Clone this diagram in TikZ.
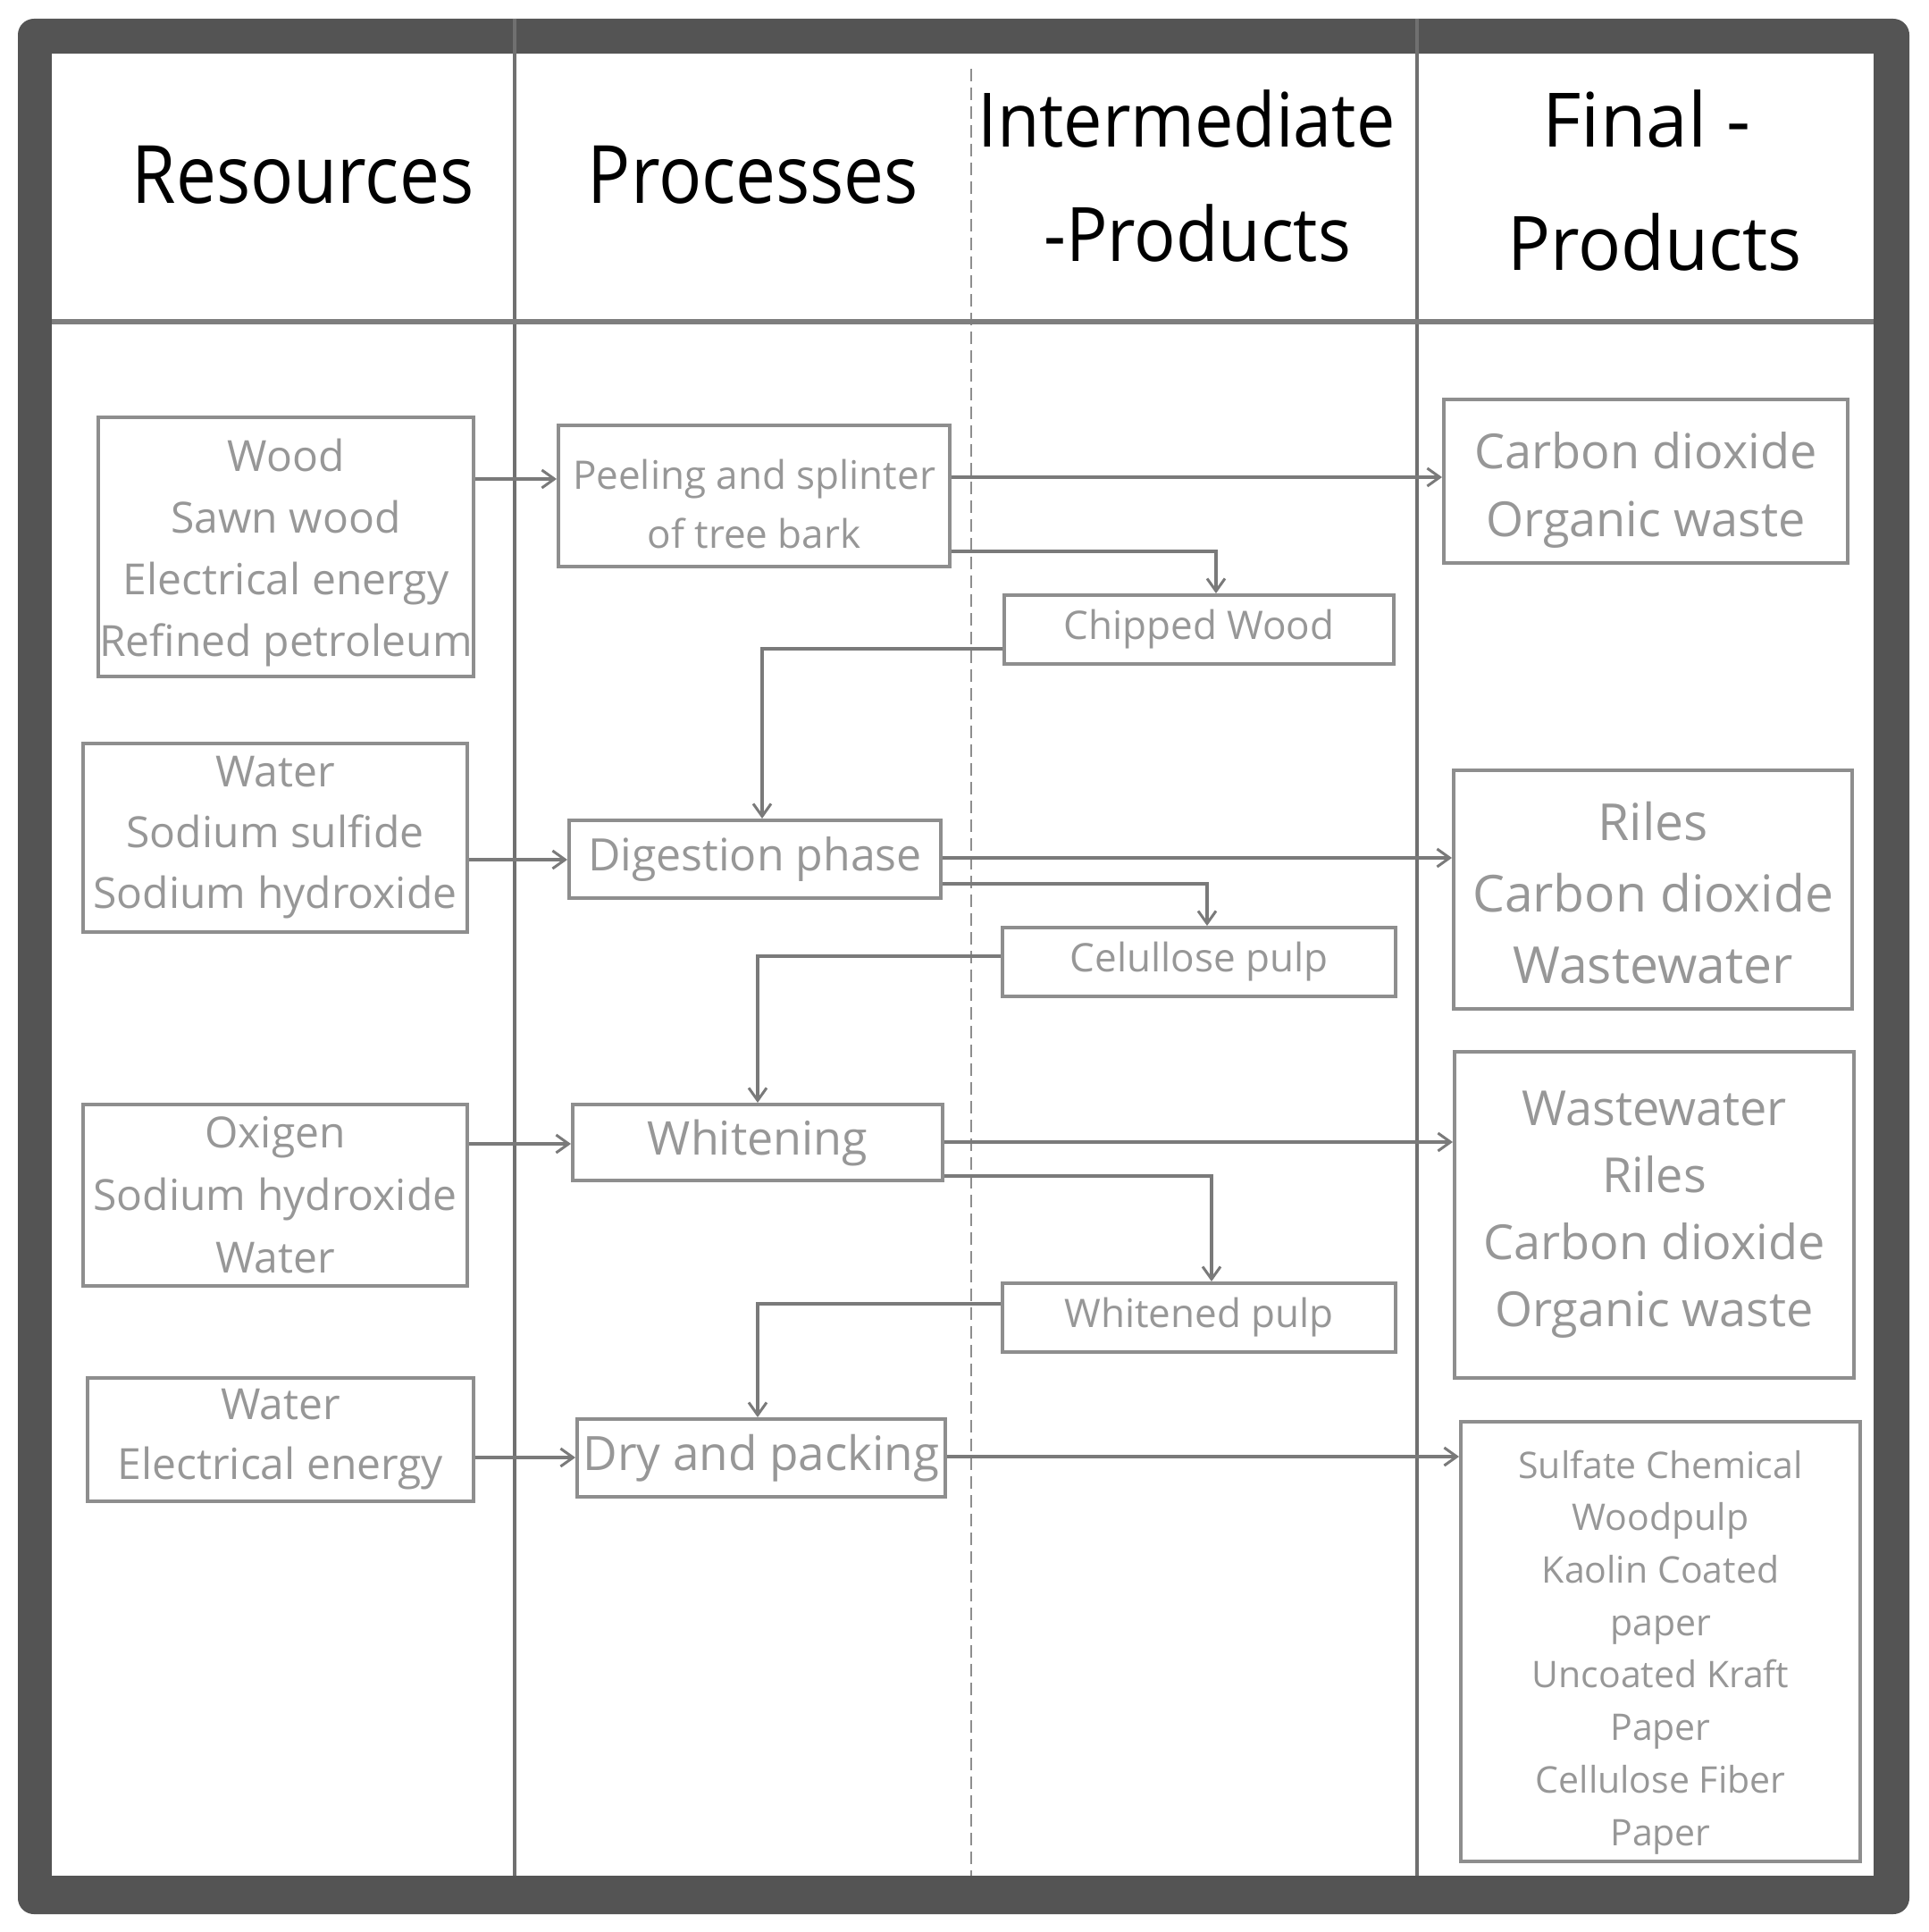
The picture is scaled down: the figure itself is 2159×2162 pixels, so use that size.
\documentclass[tikz,border=0pt]{standalone}
\usepackage{fontspec}
\usepackage{graphicx}
\setmainfont{Open Sans}
\usetikzlibrary{arrows.meta}
\definecolor{framec}{HTML}{545454}
\definecolor{divc}{HTML}{707070}
\definecolor{boxc}{HTML}{8E8E8E}
\definecolor{txtc}{HTML}{979797}
\definecolor{arrc}{HTML}{7A7A7A}
\newcommand{\tallstrut}[1]{\rule{0pt}{#1pt}}
\begin{document}
\begin{tikzpicture}[x=1pt,y=-1pt,
  box/.style={draw=boxc, line width=4pt, fill=white, text=txtc, align=center, inner sep=0pt},
  hdr/.style={anchor=base, text=black, inner sep=0pt},
  arr/.style={draw=arrc, line width=4pt, -{Straight Barb[length=14pt,width=20pt,line width=3pt]}}
]
\useasboundingbox (0,0) rectangle (2159,2162);
% frame
\fill[framec, rounded corners=18pt] (20,21) rectangle (2137,2142);
\fill[white] (58,60) rectangle (2097,2099);
% dividers
\draw[divc, line width=3.5pt] (576,21) -- (576,2099);
\draw[divc, line width=3.5pt] (1586,21) -- (1586,2099);
\draw[boxc, line width=2.5pt, dash pattern=on 14pt off 7pt] (1087,77) -- (1087,2099);
\draw[divc!90, line width=6pt] (58,360) -- (2097,360);
% headers
\node[hdr, font=\fontsize{90}{100}\selectfont] (hRes) at (339,227) {\scalebox{0.89}[1]{Resources}};
\node[hdr, font=\fontsize{90}{100}\selectfont] (hPro) at (843,227) {\scalebox{0.89}[1]{Processes}};
\node[hdr, font=\fontsize{84}{100}\selectfont] (hInt1) at (1328,165) {\scalebox{0.92}[1]{Intermediate}};
\node[hdr, font=\fontsize{84}{100}\selectfont] (hInt2) at (1340,292) {\scalebox{0.92}[1]{-Products}};
\node[hdr, font=\fontsize{84}{100}\selectfont] (hFin1) at (1843,165) {Final -};
\node[hdr, font=\fontsize{84}{100}\selectfont] (hFin2) at (1852,302) {\scalebox{0.95}[1]{Products}};
% resources
\node[box, minimum width=420pt, minimum height=290pt, font=\fontsize{48}{69}\selectfont] (R1) at (320,612) {\tallstrut{49}Wood\\Sawn wood\\Electrical energy\\Refined petroleum};
\node[box, minimum width=430pt, minimum height=211pt, font=\fontsize{48}{68}\selectfont] (R2) at (308,937.5) {Water\\Sodium sulfide\\Sodium hydroxide};
\node[box, minimum width=430pt, minimum height=203pt, font=\fontsize{48}{70}\selectfont] (R3) at (308,1337.5) {Oxigen\\Sodium hydroxide\\Water};
\node[box, minimum width=432pt, minimum height=138pt, font=\fontsize{48}{67}\selectfont] (R4) at (314,1611) {Water\\Electrical energy};
% processes
\node[box, minimum width=438pt, minimum height=158pt, font=\fontsize{44}{66}\selectfont] (P1) at (844,555) {\tallstrut{51}Peeling and splinter\\of tree bark};
\node[box, minimum width=416pt, minimum height=87pt, font=\fontsize{50}{60}\selectfont] (P2) at (845,961.5) {Digestion phase};
\node[box, minimum width=414pt, minimum height=85pt, font=\fontsize{52}{60}\selectfont] (P3) at (848,1278.5) {Whitening};
\node[box, minimum width=412pt, minimum height=87pt, font=\fontsize{53}{60}\selectfont] (P4) at (852,1631.5) {Dry and packing};
% intermediate
\node[box, minimum width=436pt, minimum height=77pt, font=\fontsize{44}{60}\selectfont] (I1) at (1342,704.5) {Chipped Wood};
\node[box, minimum width=440pt, minimum height=77pt, font=\fontsize{44}{60}\selectfont] (I2) at (1342,1076.5) {Celullose pulp};
\node[box, minimum width=440pt, minimum height=77pt, font=\fontsize{44}{60}\selectfont] (I3) at (1342,1474.5) {Whitened pulp};
% final
\node[box, minimum width=452pt, minimum height=183pt, font=\fontsize{54}{76}\selectfont] (F1) at (1842,538.5) {\tallstrut{61}Carbon dioxide\\Organic waste};
\node[box, minimum width=446pt, minimum height=267pt, font=\fontsize{57}{80}\selectfont] (F2) at (1850,995.5) {\tallstrut{51}Riles\\Carbon dioxide\\Wastewater};
\node[box, minimum width=447pt, minimum height=365pt, font=\fontsize{54}{75}\selectfont] (F3) at (1851.5,1359.5) {Wastewater\\Riles\\Carbon dioxide\\Organic waste\rule[-8pt]{0pt}{0pt}};
\node[box, minimum width=447pt, minimum height=492pt, font=\fontsize{41}{58.7}\selectfont] (F4) at (1858.5,1837) {\tallstrut{55}Sulfate Chemical\\Woodpulp\\Kaolin Coated\\paper\\Uncoated Kraft\\Paper\\Cellulose Fiber\\Paper};
% connectors
\draw[arr] (R1.east |- 0,536) -- (P1.west |- 0,536);
\draw[arr] (P1.east |- 0,534) -- (F1.west |- 0,534);
\draw[arr] (P1.east |- 0,617) -| (1361,0 |- I1.north);
\draw[arr] (I1.west |- 0,726) -| (853,0 |- P2.north);
\draw[arr] (R2.east |- 0,962) -- (P2.west |- 0,962);
\draw[arr] (P2.east |- 0,960) -- (F2.west |- 0,960);
\draw[arr] (P2.east |- 0,989) -| (1351,0 |- I2.north);
\draw[arr] (I2.west |- 0,1070) -| (848,0 |- P3.north);
\draw[arr] (R3.east |- 0,1280) -- (P3.west |- 0,1280);
\draw[arr] (P3.east |- 0,1278) -- (F3.west |- 0,1278);
\draw[arr] (P3.east |- 0,1316) -| (1356,0 |- I3.north);
\draw[arr] (I3.west |- 0,1459) -| (848,0 |- P4.north);
\draw[arr] (R4.east |- 0,1631) -- (P4.west |- 0,1631);
\draw[arr] (P4.east |- 0,1630) -- (F4.west |- 0,1630);
\end{tikzpicture}
\end{document}
